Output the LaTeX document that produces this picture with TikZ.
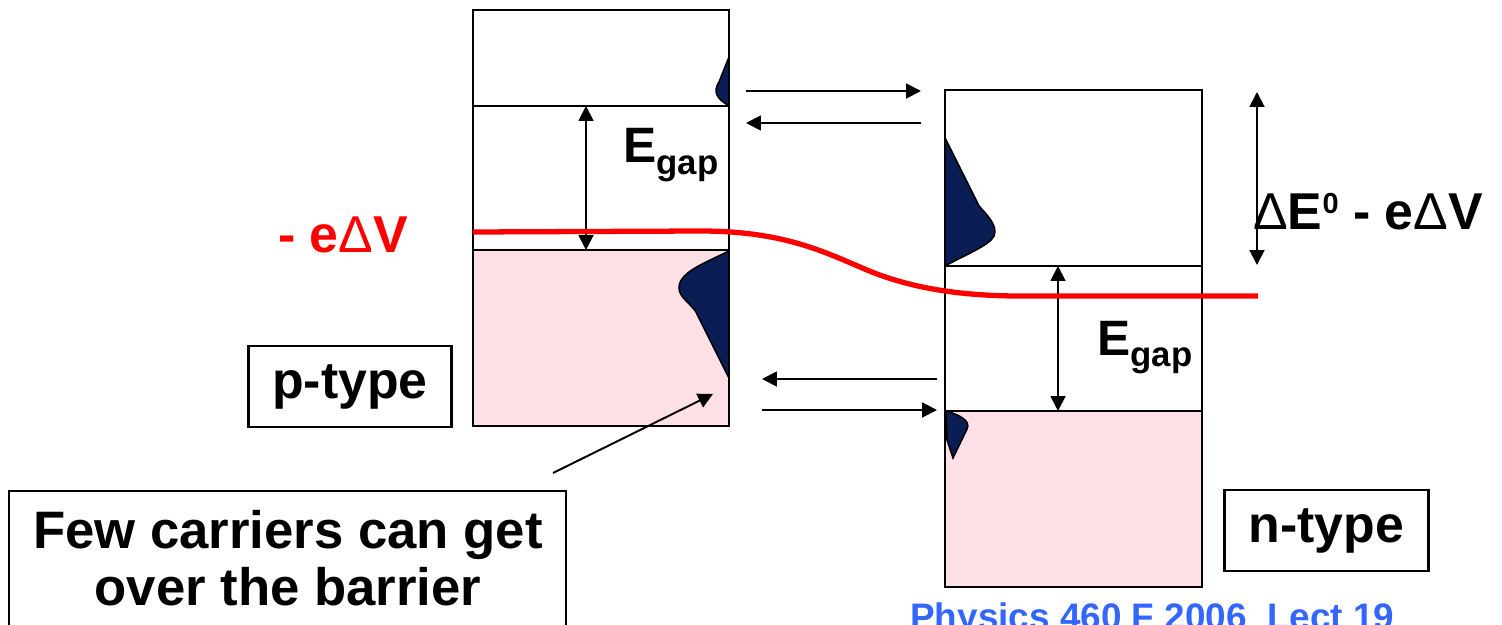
\documentclass[tikz,border=0pt]{standalone}
\usepackage{fontspec}
\setmainfont{Liberation Sans}
\usetikzlibrary{arrows.meta}
\definecolor{bandpink}{RGB}{255,224,230}
\definecolor{dosblue}{RGB}{10,30,85}
\definecolor{lectblue}{RGB}{51,102,255}
\newcommand{\egap}{E\raisebox{-6.8pt}{\fontsize{19.8}{20}\selectfont gap}}
\tikzset{
  band/.style={draw=black, line width=1.5pt},
  dos/.style={draw=black, line width=0.9pt, fill=dosblue},
  flow/.style={line width=1.1pt, -{Triangle[length=8.5pt,width=8.5pt]}},
  gaparrow/.style={line width=1.1pt, {Triangle[length=8.5pt,width=8.5pt]}-{Triangle[length=8.5pt,width=8.5pt]}},
  biglabel/.style={font=\bfseries\fontsize{29.5}{30}\selectfont, inner sep=0pt},
  labelbox/.style={biglabel, draw, line width=1.5pt, minimum width=4.07cm, minimum height=1.62cm},
  gaplabel/.style={font=\bfseries\fontsize{28.3}{29}\selectfont, inner sep=0pt, anchor=base west},
  fermi/.style={draw=red, line width=3pt}
}

\begin{document}
\begin{tikzpicture}[x=0.02cm, y=-0.02cm]
  \useasboundingbox (0,0) rectangle (1502,625);

  % p-type side
  \fill[bandpink] (473,250) rectangle (729,426);
  \path[dos] (729,57) -- (719,82) .. controls (713,92) and (716,98) .. (729,106) -- cycle;
  \path[dos] (729,251) .. controls (705,263) and (679,272) .. (679,288)
    .. controls (679,297) and (690,303) .. (696,312) -- (729,378) -- cycle;
  \draw[band] (473,10) rectangle (729,426);
  \draw[band] (473,106) -- (729,106) (473,250) -- (729,250);

  % n-type side
  \fill[bandpink] (945,411) rectangle (1202,587);
  \path[dos] (945,138) -- (979,206) .. controls (988,216) and (998,226) .. (994,236)
    .. controls (990,245) and (965,255) .. (945,266) -- cycle;
  \path[dos] (946,411) .. controls (960,415) and (971,421) .. (967,429) -- (953,458) -- (947,440) -- cycle;
  \draw[band] (945,90) rectangle (1202,587);
  \draw[band] (945,266) -- (1202,266) (945,411) -- (1202,411);

  % band edges and arrow ends
  \coordinate (pCB) at (586,106);
  \coordinate (pVB) at (586,250);
  \coordinate (nCB) at (1058,266);
  \coordinate (nVB) at (1058,411);
  \coordinate (shiftTop) at (1257,92);
  \coordinate (shiftBot) at (1257,265);
  \coordinate (elecL) at (746,91);
  \coordinate (elecR) at (921,91);
  \coordinate (backR) at (921,123);
  \coordinate (backL) at (746,123);
  \coordinate (holeR) at (937,379);
  \coordinate (holeL) at (762,379);
  \coordinate (fwdL) at (762,410);
  \coordinate (fwdR) at (937,410);
  \coordinate (fewTip) at (553,473);
  \coordinate (holes) at (713,394);

  \draw[gaparrow] (pCB) -- (pVB);
  \draw[gaparrow] (nCB) -- (nVB);
  \draw[gaparrow] (shiftTop) -- (shiftBot);
  \draw[flow] (elecL) -- (elecR);
  \draw[flow] (backR) -- (backL);
  \draw[flow] (holeR) -- (holeL);
  \draw[flow] (fwdL) -- (fwdR);
  \draw[flow] (fewTip) -- (holes);

  % Fermi level
  \draw[fermi] (473,232) -- (700,231) .. controls (780,231) and (820,250) .. (860,267)
    .. controls (900,285) and (950,296) .. (1020,296) -- (1258,296);

  % labels
  \node[gaplabel] (gapP) at (623,163) {\egap};
  \node[gaplabel] (gapN) at (1097,355) {\egap};
  \node[biglabel, text=red, anchor=base] (bias) at (343,253) {- e\textmd{Δ}V};
  \node[biglabel, anchor=base west] (shift) at (1253,230)
    {\textmd{Δ}E\raisebox{9.6pt}{\fontsize{16.5}{17}\selectfont 0} - e\textmd{Δ}V};
  \node[labelbox] (ptype) at (350,386.5) {p-type};
  \node[labelbox] (ntype) at (1326.5,530.5) {n-type};
  \node[biglabel, font=\bfseries\fontsize{30}{32.3}\selectfont, align=center, anchor=base] (few) at (288,605)
    {Few carriers can get\\over the barrier};
  \draw[band] (9,640) |- (566,491) -- (566,640);
  \node[font=\bfseries\fontsize{21}{21}\selectfont, text=lectblue, inner sep=0pt, anchor=base west] (lect) at (910,629.5)
    {Physics 460 F 2006\ \ Lect 19};
\end{tikzpicture}
\end{document}
